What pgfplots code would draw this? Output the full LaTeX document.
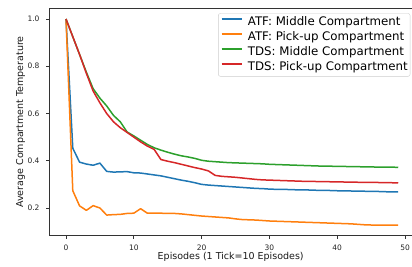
\documentclass[border=0pt]{standalone}
\usepackage{fontspec}
\setmainfont{DejaVu Sans}
\usepackage{pgfplots}
\pgfplotsset{compat=1.18}
\definecolor{mplblue}{HTML}{1F77B4}
\definecolor{mplorange}{HTML}{FF7F0E}
\definecolor{mplgreen}{HTML}{2CA02C}
\definecolor{mplred}{HTML}{D62728}
\begin{document}
\begin{tikzpicture}
\begin{axis}[
  scale only axis,
  width=362.6pt, height=226.8pt,
  xmin=-2.45, xmax=51.03,
  ymin=0.084, ymax=1.044,
  xtick={0,10,20,30,40,50},
  ytick={0.2,0.4,0.6,0.8,1.0},
  yticklabels={0.2,0.4,0.6,0.8,1.0},
  tick pos=left,
  tick align=outside,
  major tick length=3.4pt,
  every tick/.style={black!80, line width=0.8pt},
  axis line style={black!80, line width=0.8pt},
  /pgf/number format/assume math mode=true,
  tick label style={font=\fontsize{7.5}{9}\selectfont, text=black!85},
  yticklabel style={inner sep=0pt, anchor=east, xshift=-6.3pt},
  xticklabel style={inner sep=0pt, anchor=north, yshift=-6pt},
  xlabel={Episodes (1 Tick=10 Episodes)},
  ylabel={Average Compartment Temperature},
  label style={font=\fontsize{9.5}{11}\selectfont, text=black!90},
  xlabel style={at={(axis description cs:0.5,0)}, anchor=north, inner sep=0pt, yshift=-17pt},
  ylabel style={at={(axis description cs:-0.0662,0.5)}, anchor=south, inner sep=0pt, rotate=0},
  legend cell align=left,
  legend style={at={(rel axis cs:1,1)}, anchor=north east, xshift=-1.7pt, yshift=-4.7pt,
    font=\fontsize{11.8}{13}\selectfont, draw=black!20, rounded corners=2pt,
    inner xsep=2.3pt, inner ysep=3pt, column sep=4.7pt, row sep=3.6pt,
    nodes={inner sep=0pt, text height=9pt, text depth=2.5pt}},
  legend image code/.code={\draw[#1, line width=1.8pt] (0pt,3.6pt) -- (20.7pt,3.6pt);},
  every axis plot/.append style={line width=1.5pt, line join=round},
]
\addplot[mplblue] coordinates {
(0,1.0) (1,0.453) (2,0.394) (3,0.386) (4,0.381) (5,0.390) (6,0.355) (7,0.352) (8,0.353) (9,0.354)
(10,0.349) (11,0.348) (12,0.344) (13,0.340) (14,0.336) (15,0.330) (16,0.324) (17,0.318) (18,0.313) (19,0.307)
(20,0.300) (21,0.297) (22,0.295) (23,0.293) (24,0.291) (25,0.289) (26,0.287) (27,0.285) (28,0.283) (29,0.282)
(30,0.280) (31,0.279) (32,0.279) (33,0.278) (34,0.277) (35,0.277) (36,0.276) (37,0.275) (38,0.275) (39,0.274)
(40,0.273) (41,0.273) (42,0.272) (43,0.271) (44,0.271) (45,0.270) (46,0.270) (47,0.269) (48,0.268) (49,0.268)};
\addlegendentry{ATF: Middle Compartment}
\addplot[mplorange] coordinates {
(0,1.0) (1,0.273) (2,0.209) (3,0.190) (4,0.210) (5,0.200) (6,0.170) (7,0.172) (8,0.173) (9,0.177)
(10,0.178) (11,0.197) (12,0.178) (13,0.178) (14,0.178) (15,0.177) (16,0.177) (17,0.175) (18,0.172) (19,0.169)
(20,0.166) (21,0.164) (22,0.162) (23,0.160) (24,0.158) (25,0.154) (26,0.151) (27,0.150) (28,0.149) (29,0.147)
(30,0.145) (31,0.144) (32,0.143) (33,0.142) (34,0.141) (35,0.140) (36,0.139) (37,0.138) (38,0.137) (39,0.136)
(40,0.135) (41,0.134) (42,0.133) (43,0.131) (44,0.129) (45,0.128) (46,0.128) (47,0.128) (48,0.127) (49,0.127)};
\addlegendentry{ATF: Pick-up Compartment}
\addplot[mplgreen] coordinates {
(0,1.0) (1,0.925) (2,0.850) (3,0.775) (4,0.705) (5,0.665) (6,0.632) (7,0.592) (8,0.565) (9,0.522)
(10,0.505) (11,0.487) (12,0.469) (13,0.455) (14,0.445) (15,0.436) (16,0.428) (17,0.421) (18,0.416) (19,0.410)
(20,0.402) (21,0.398) (22,0.396) (23,0.394) (24,0.392) (25,0.391) (26,0.390) (27,0.389) (28,0.388) (29,0.387)
(30,0.385) (31,0.384) (32,0.383) (33,0.382) (34,0.381) (35,0.380) (36,0.379) (37,0.378) (38,0.377) (39,0.377)
(40,0.376) (41,0.376) (42,0.375) (43,0.375) (44,0.374) (45,0.374) (46,0.373) (47,0.373) (48,0.373) (49,0.372)};
\addlegendentry{TDS: Middle Compartment}
\addplot[mplred] coordinates {
(0,1.0) (1,0.925) (2,0.850) (3,0.770) (4,0.695) (5,0.645) (6,0.600) (7,0.565) (8,0.540) (9,0.520)
(10,0.500) (11,0.480) (12,0.462) (13,0.448) (14,0.405) (15,0.398) (16,0.392) (17,0.385) (18,0.378) (19,0.371)
(20,0.365) (21,0.357) (22,0.338) (23,0.334) (24,0.332) (25,0.330) (26,0.327) (27,0.324) (28,0.321) (29,0.319)
(30,0.318) (31,0.317) (32,0.316) (33,0.315) (34,0.314) (35,0.313) (36,0.313) (37,0.312) (38,0.312) (39,0.311)
(40,0.311) (41,0.310) (42,0.310) (43,0.309) (44,0.309) (45,0.308) (46,0.308) (47,0.307) (48,0.307) (49,0.306)};
\addlegendentry{TDS: Pick-up Compartment}
\end{axis}
\pgfresetboundingbox
\path[use as bounding box] (-49.4pt,-30.6pt) rectangle (362.6pt,235.4pt);
\end{tikzpicture}
\end{document}
